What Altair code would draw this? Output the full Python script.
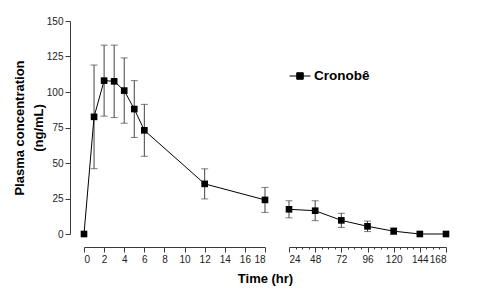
import altair as alt
import pandas as pd

times = [0, 1, 2, 3, 4, 5, 6, 12, 18, 24, 48, 72, 96, 120, 144, 168]
means = [0, 82.5, 108, 107.5, 101, 88, 73, 35.3, 24, 17.4, 16.4, 9.6, 5.4, 2, 0, 0]
sds = [0, 36.5, 25, 25.5, 23, 20, 18.3, 10.6, 8.8, 6, 7, 5, 3.7, 2.3, 0, 0]
series_name = "Cronobê"
left_ticks = [0, 2, 4, 6, 8, 10, 12, 14, 16, 18]
right_ticks = [24, 48, 72, 96, 120, 144, 168]
minor_ticks = [30, 36, 42, 54, 60, 66, 78, 84, 90, 102, 108, 114,
               126, 132, 138, 150, 156, 162]
y_ticks = [0, 25, 50, 75, 100, 125, 150]

df = pd.DataFrame({"time": times, "mean": means, "sd": sds})
df["lo"] = df["mean"] - df["sd"]
df["hi"] = df["mean"] + df["sd"]
df["series"] = series_name

FONT = "Liberation Sans"
AX = "#3a3a3a"


def panel(domain, width, xaxis, yaxis, legend, filt, minor_axis=None):
    base = alt.Chart(df).transform_filter(filt)
    xs = alt.Scale(domain=domain, nice=False, zero=False)
    ys = alt.Scale(domain=[0, 150], nice=False)
    xn = alt.X("time:Q", scale=xs, axis=None)
    yn = alt.Y("mean:Q", scale=ys, axis=None)
    eb = base.transform_filter("datum.sd > 0")
    rule = eb.mark_rule(color="#444", strokeWidth=1).encode(
        x=xn, y=alt.Y("lo:Q", scale=ys, axis=None), y2="hi:Q")
    cap_hi = eb.mark_tick(color="#444", orient="horizontal", size=7, thickness=1).encode(
        x=xn, y=alt.Y("hi:Q", scale=ys, axis=None))
    cap_lo = eb.mark_tick(color="#444", orient="horizontal", size=7, thickness=1).encode(
        x=xn, y=alt.Y("lo:Q", scale=ys, axis=None))
    if legend is not None:
        line = base.mark_line(strokeWidth=1).encode(
            x=xn, y=yn,
            color=alt.Color("series:N", scale=alt.Scale(domain=[series_name], range=["black"]),
                            legend=legend))
    else:
        line = base.mark_line(strokeWidth=1, color="black").encode(x=xn, y=yn)
    pts = base.mark_square(size=44, color="black", opacity=1, filled=True).encode(
        x=alt.X("time:Q", scale=xs, axis=xaxis),
        y=alt.Y("mean:Q", scale=ys, axis=yaxis))
    layers = [rule, cap_hi, cap_lo, line, pts]
    if minor_axis is not None:
        ghost = base.mark_point(opacity=0).encode(
            x=alt.X("time:Q", scale=xs, axis=minor_axis), y=yn)
        layers.append(ghost)
    out = alt.layer(*layers).resolve_axis(x="independent", y="independent")
    return out.properties(width=width, height=213)


common_x = dict(labelFont=FONT, labelFontSize=10, labelColor="#222", domainColor=AX,
                tickColor=AX, tickSize=5, labelPadding=2, offset=13, grid=False)

left_x = alt.Axis(values=left_ticks, title="Time (hr)", titleX=181, titleAnchor="middle",
                  titleAlign="center", titleFont=FONT, titleFontSize=13, titleFontWeight="bold",
                  titleColor="black", titlePadding=8, orient="bottom", **common_x)
right_x = alt.Axis(values=right_ticks, title=None, orient="bottom", **common_x)
minor_x = alt.Axis(values=minor_ticks, title=None, labels=False, domain=False, orient="bottom",
                   tickColor=AX, tickSize=2, offset=13, grid=False)

left_y = alt.Axis(values=y_ticks, title=["Plasma concentration", "(ng/mL)"], offset=14,
                  orient="left",
                  labelFont=FONT, labelFontSize=10, labelColor="#222", domainColor=AX,
                  tickColor=AX, tickSize=5, labelPadding=2, grid=False,
                  titleFont=FONT, titleFontSize=13, titleFontWeight="bold", titleColor="black",
                  titleLineHeight=19, titlePadding=1)

legend = alt.Legend(title=None, orient="none", legendX=205, legendY=44,
                    symbolType="M-1,0H1M-0.31,-0.31H0.31V0.31H-0.31Z", symbolSize=441,
                    symbolStrokeWidth=1, symbolStrokeColor="black", symbolFillColor="black",
                    labelFont=FONT, labelFontSize=13.5, labelFontWeight="bold",
                    labelColor="black", labelOffset=3)

left = panel([0, 18], 181, left_x, left_y, None, "datum.time <= 18")
right = panel([24, 168], 157, right_x, None, legend, "datum.time >= 24", minor_x)

chart = alt.hconcat(left, right, spacing=24, bounds="flush").properties(
    padding={"left": 5, "top": 8, "right": 5, "bottom": 5}
).configure_view(stroke=None)

chart.save("out.html", embed_options={"renderer": "svg", "actions": False})
